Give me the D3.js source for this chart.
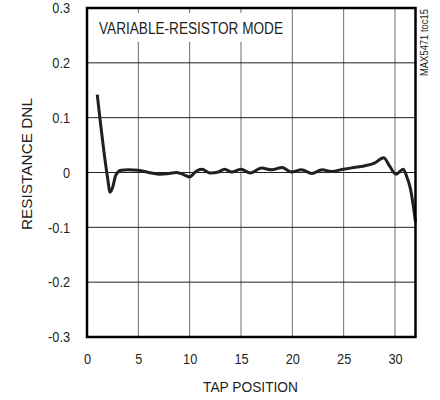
<!DOCTYPE html>
<html>
<head>
<meta charset="utf-8">
<script src="https://cdn.jsdelivr.net/npm/d3@7"></script>
<style>
  body { margin: 0; background: #fff; }
  text { font-family: "Liberation Sans", Arial, sans-serif; fill: #231f20; }
</style>
</head>
<body>
<div id="chart"></div>
<script>
// tap positions and resistance DNL
const taps = [1, 2.0, 2.25, 2.5, 2.8, 3.3, 4, 5, 6, 7, 8, 8.7, 9.3, 10, 10.6, 11.2, 12, 12.8, 13.4, 14.1, 15, 15.9, 17, 18, 19, 19.9, 20.9, 21.9, 22.9, 23.8, 25, 26, 27, 28, 28.9, 29.5, 30.1, 30.8, 31.1, 31.5, 32];
const dnl = [0.142, -0.009, -0.036, -0.027, -0.005, 0.004, 0.005, 0.004, 0.000, -0.003, -0.002, 0.000, -0.003, -0.008, 0.002, 0.006, -0.001, 0.001, 0.006, 0.001, 0.006, -0.001, 0.008, 0.005, 0.009, 0.001, 0.005, -0.002, 0.005, 0.002, 0.006, 0.009, 0.012, 0.017, 0.027, 0.011, -0.003, 0.006, -0.005, -0.029, -0.09];

const xTicks = [0, 5, 10, 15, 20, 25, 30];
const yTicks = [-0.3, -0.2, -0.1, 0, 0.1, 0.2, 0.3];

const width = 440, height = 400;
const margin = {top: 8, right: 24.5, bottom: 63, left: 87};
const squeeze = 0.85; // narrow-font look

const svg = d3.select("#chart")
  .append("svg")
  .attr("width", width)
  .attr("height", height);

const xScale = d3.scaleLinear()
  .domain([0, 32])
  .range([margin.left, width - margin.right]);

const yScale = d3.scaleLinear()
  .domain([-0.3, 0.3])
  .range([height - margin.bottom, margin.top]);

// vertical grid (grey)
svg.append("g")
  .selectAll("line")
  .data(xTicks.slice(1))
  .enter()
  .append("line")
  .attr("x1", d => xScale(d)).attr("x2", d => xScale(d))
  .attr("y1", margin.top).attr("y2", height - margin.bottom)
  .attr("stroke", "#6d6e71")
  .attr("stroke-width", 1);

// horizontal grid (black)
svg.append("g")
  .selectAll("line")
  .data(yTicks.slice(1, -1))
  .enter()
  .append("line")
  .attr("x1", margin.left).attr("x2", width - margin.right)
  .attr("y1", d => yScale(d)).attr("y2", d => yScale(d))
  .attr("stroke", "#231f20")
  .attr("stroke-width", 1);

// mode label with white box behind it
svg.append("rect")
  .attr("x", xScale(0) + 7).attr("y", margin.top + 5)
  .attr("width", 196).attr("height", 29)
  .attr("fill", "#fff");
svg.append("text")
  .attr("x", xScale(0) + 12)
  .attr("y", 33.5)
  .attr("font-size", "16px")
  .attr("textLength", 184)
  .attr("lengthAdjust", "spacingAndGlyphs")
  .text("VARIABLE-RESISTOR MODE");

// data curve
const line = d3.line()
  .x((d, i) => xScale(taps[i]))
  .y(d => yScale(d))
  .curve(d3.curveMonotoneX);

svg.append("path")
  .datum(dnl)
  .attr("fill", "none")
  .attr("stroke", "#231f20")
  .attr("stroke-width", 3)
  .attr("stroke-linejoin", "round")
  .attr("d", line);

// frame
svg.append("rect")
  .attr("x", margin.left).attr("y", margin.top)
  .attr("width", width - margin.left - margin.right)
  .attr("height", height - margin.top - margin.bottom)
  .attr("fill", "none")
  .attr("stroke", "#000")
  .attr("stroke-width", 2.5);

// axes (labels only)
const xAxis = svg.append("g")
  .attr("transform", `translate(0,${height - margin.bottom})`)
  .call(d3.axisBottom(xScale).tickValues(xTicks).tickSize(0).tickPadding(16).tickFormat(d3.format("d")));
xAxis.select(".domain").remove();
xAxis.selectAll("text").attr("font-size", "15px").attr("font-family", null).attr("fill", "#231f20")
  .attr("transform", `scale(${squeeze},1)`);

const yAxis = svg.append("g")
  .attr("transform", `translate(${margin.left},0)`)
  .call(d3.axisLeft(yScale).tickValues(yTicks).tickSize(0)
    .tickFormat(d => d === 0 ? "0" : d.toFixed(1)));
yAxis.select(".domain").remove();
yAxis.selectAll("text").attr("font-size", "15px").attr("font-family", null).attr("fill", "#231f20")
  .attr("x", -17 / squeeze)
  .attr("transform", `scale(${squeeze},1)`);

// axis titles
svg.append("text")
  .attr("x", 203)
  .attr("y", 392)
  .attr("font-size", "15px")
  .attr("textLength", 95)
  .attr("lengthAdjust", "spacingAndGlyphs")
  .text("TAP POSITION");

svg.append("text")
  .attr("transform", `translate(32,230) rotate(-90)`)
  .attr("font-size", "15px")
  .attr("textLength", 132)
  .attr("lengthAdjust", "spacingAndGlyphs")
  .text("RESISTANCE DNL");

svg.append("text")
  .attr("transform", `translate(428,76) rotate(-90)`)
  .attr("font-size", "10px")
  .attr("textLength", 67)
  .attr("lengthAdjust", "spacingAndGlyphs")
  .text("MAX5471 toc15");
</script>
</body>
</html>
